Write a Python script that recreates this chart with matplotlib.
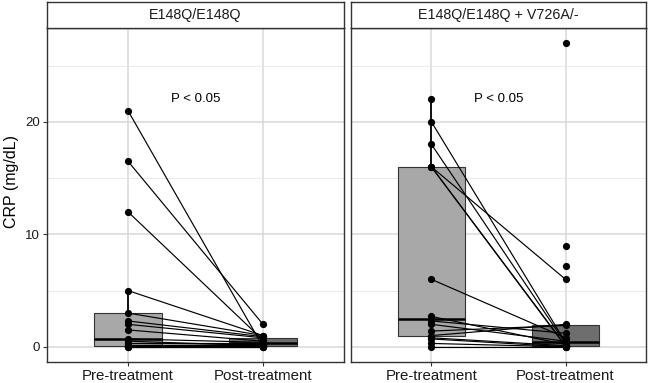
import numpy as np
import matplotlib
matplotlib.use("Agg")
import matplotlib.pyplot as plt

plt.rcParams['font.family'] = ['Liberation Sans', 'DejaVu Sans']

nan = np.nan
categories = ["Pre-treatment", "Post-treatment"]
panel_titles = ["E148Q/E148Q", "E148Q/E148Q + V726A/-"]
p_labels = ["P < 0.05", "P < 0.05"]

# E148Q/E148Q: one entry per patient (pre, post)
hom_pre = [21, 16.5, 12, 5, 3, 2.3, 2.0, 1.5, 0.7, 0.5, 0.3, 0.2, 0.1, 0.1, 0, 0, 0]
hom_post = [0, 2.0, 0.6, 1.0, 1.0, 0.9, 0.8, 0.5, 0.4, 0.1, 0.3, 0.2, 0.2, 0.1, 0.1, 0, 0]

# E148Q/E148Q + V726A/-: NaN = missing measurement
het_pre = [20, 18, 16, 16, 16, 6, 2.7, 2.3, 2.0, 1.4, 1.0, 0.8, 0.7, 0.3, 0, 22, nan, nan, nan]
het_post = [0.4, 0.3, 6, 0.1, 0.05, 0.8, 0.2, 1.2, 0.5, 1.9, 2.0, 0.1, 0, 0, 0, nan, 27, 9, 7.2]

groups = [(hom_pre, hom_post), (het_pre, het_post)]
box_colors = ["#A8A8A8", "#6E6E6E"]

W, H = 648, 383
fig = plt.figure(figsize=(W / 100, H / 100), dpi=100)
panels = [(47, 344), (351, 646)]
strip_top, strip_bot, bot = 2, 28, 362

for i, ((x0, x1), (pre, post)) in enumerate(zip(panels, groups)):
    ax = fig.add_axes([x0 / W, (H - bot) / H, (x1 - x0) / W, (bot - strip_bot) / H])
    sax = fig.add_axes([x0 / W, (H - strip_bot) / H, (x1 - x0) / W, (strip_bot - strip_top) / H])

    pre = np.array(pre, dtype=float)
    post = np.array(post, dtype=float)
    pre_c = pre[~np.isnan(pre)]
    post_c = post[~np.isnan(post)]

    bp = ax.boxplot([pre_c, post_c], positions=[1, 2], widths=0.5, patch_artist=True,
                    showfliers=False, showcaps=False, whis=1.5,
                    medianprops=dict(color='black', lw=1.8),
                    boxprops=dict(edgecolor='#333333', lw=0.8),
                    whiskerprops=dict(color='black', lw=1.3), zorder=2)
    for patch, c in zip(bp['boxes'], box_colors):
        patch.set_facecolor(c)

    for a, b in zip(pre, post):
        if not (np.isnan(a) or np.isnan(b)):
            ax.plot([1, 2], [a, b], color='black', lw=0.85, zorder=3)
    ax.scatter(np.ones(len(pre_c)), pre_c, s=27, color='black', zorder=4, linewidths=0)
    ax.scatter(np.full(len(post_c), 2.0), post_c, s=27, color='black', zorder=4, linewidths=0)

    ax.text(1.5, 22, p_labels[i], ha='center', va='center', fontsize=9.5, color='black')

    ax.set_xlim(0.4, 2.6)
    ax.set_ylim(-1.35, 28.35)
    ax.set_xticks([1, 2])
    ax.set_xticklabels(categories, fontsize=10.8, color='#1a1a1a')
    ax.set_yticks([0, 10, 20])
    ax.set_yticks([5, 15, 25], minor=True)
    ax.grid(which='major', color='#D9D9D9', lw=1.1)
    ax.grid(which='minor', axis='y', color='#E6E6E6', lw=0.6)
    ax.set_axisbelow(True)
    for s in ax.spines.values():
        s.set_color('#333333')
        s.set_linewidth(1.0)
    ax.tick_params(which='minor', length=0)
    ax.tick_params(axis='both', which='major', length=3, color='#333333', width=0.8, pad=2)
    if i == 0:
        ax.set_yticklabels(['0', '10', '20'], fontsize=9.5, color='#1a1a1a')
    else:
        ax.tick_params(axis='y', left=False, labelleft=False)

    sax.set_facecolor('white')
    sax.set_xticks([])
    sax.set_yticks([])
    for s in sax.spines.values():
        s.set_color('#333333')
        s.set_linewidth(1.0)
    sax.text(0.5, 0.5, panel_titles[i], ha='center', va='center', fontsize=10.3,
             color='#1a1a1a', transform=sax.transAxes)

fig.text(12 / W, 1 - 182 / H, "CRP (mg/dL)", rotation=90, ha='center', va='center',
         fontsize=11.5, color='black')

fig.savefig("out.png", dpi=100)
